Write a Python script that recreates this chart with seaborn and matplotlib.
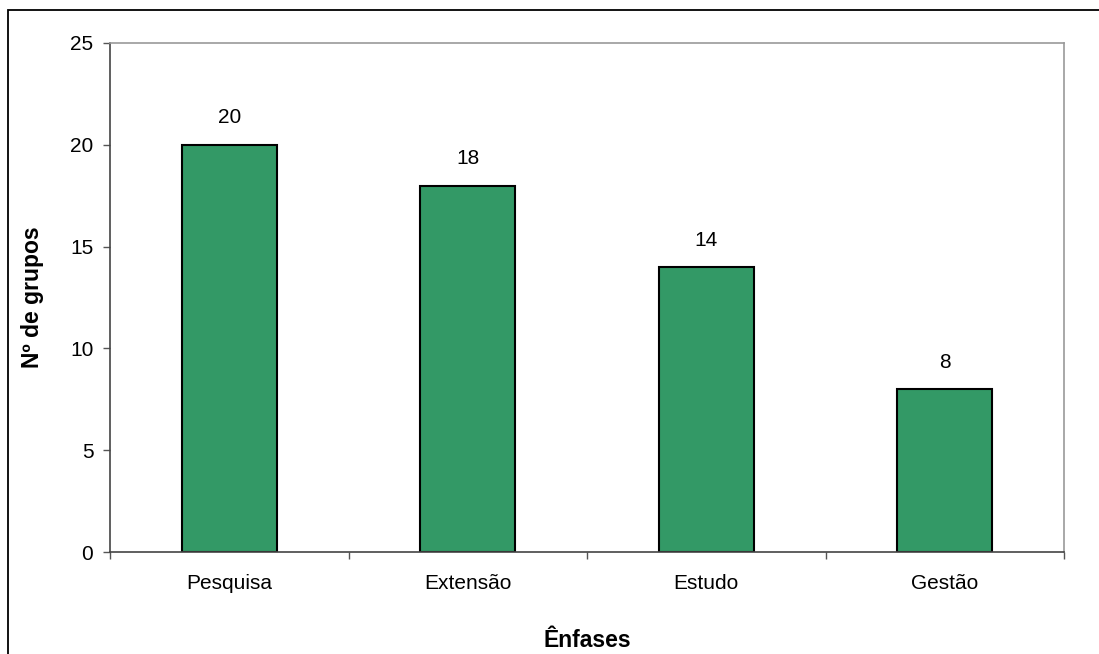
import matplotlib
matplotlib.use("Agg")
import matplotlib.pyplot as plt
import matplotlib.patches as mpatches
import seaborn as sns
import pandas as pd
import numpy as np

categories = ["Pesquisa", "Extensão", "Estudo", "Gestão"]
values = [20, 18, 14, 8]
y_ticks = [0, 5, 10, 15, 20, 25]

sns.set_style("white")
plt.rcParams['font.family'] = ['Liberation Sans', 'DejaVu Sans']
plt.rcParams['text.color'] = 'black'
plt.rcParams['axes.labelcolor'] = 'black'
plt.rcParams['xtick.color'] = 'black'
plt.rcParams['ytick.color'] = 'black'

df = pd.DataFrame({"cat": categories, "val": values})

fig = plt.figure(figsize=(10.99, 6.54), dpi=100)
ax = fig.add_axes([110/1099, 1-552/654, (1064-110)/1099, (552-43)/654])

sns.barplot(data=df, x="cat", y="val", ax=ax, color="#339966", width=0.4,
            edgecolor="black", linewidth=1.5, saturation=1)

fs = 15
ax.set_xlim(-0.5, len(categories) - 0.5)
ax.set_ylim(0, 25)
ax.set_yticks(y_ticks)
ax.set_yticklabels([str(t) for t in y_ticks], fontsize=fs)
ax.set_xticks(range(len(categories)))
ax.set_xticklabels(categories, fontsize=fs)
ax.set_xticks(np.arange(-0.5, len(categories), 1.0), minor=True)
ax.tick_params(axis='x', which='major', length=0, pad=16, labelcolor='black')
ax.tick_params(axis='x', which='minor', length=5, width=1, color='#555555', direction='out', bottom=True)
ax.tick_params(axis='y', which='major', length=5, width=1, color='#555555', direction='out', left=True, pad=7, labelcolor='black')

for i, v in enumerate(values):
    ax.text(i, v + 0.85, str(v), ha='center', va='bottom', fontsize=fs, color='black')

ax.set_xlabel("Ênfases", fontsize=16.5, fontweight='bold', labelpad=26, color='black')
ax.set_ylabel("Nº de grupos", fontsize=16.5, fontweight='bold', labelpad=19, color='black')

for s in ['left', 'bottom']:
    ax.spines[s].set_color('#444444')
    ax.spines[s].set_linewidth(1.2)
for s in ['top', 'right']:
    ax.spines[s].set_visible(True)
    ax.spines[s].set_color('#999999')
    ax.spines[s].set_linewidth(1.2)

border = mpatches.Rectangle((8/1099, -0.05), 1.0, (654-10)/654 + 0.05,
                            transform=fig.transFigure, fill=False,
                            edgecolor='black', linewidth=1.3)
fig.patches.append(border)

fig.savefig("out.png", dpi=100)
